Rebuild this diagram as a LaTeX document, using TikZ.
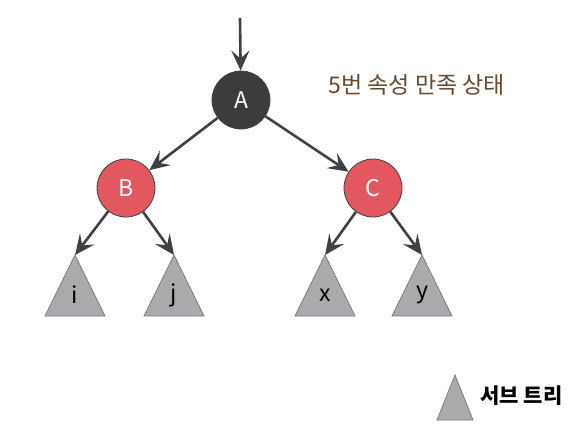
\documentclass[tikz,border=0pt]{standalone}
\usepackage{fontspec}
\setmainfont{Noto Sans CJK KR}
\usetikzlibrary{arrows.meta}
\definecolor{nodeblack}{RGB}{60,60,62}
\definecolor{nodered}{RGB}{226,88,94}
\definecolor{treegray}{RGB}{170,170,172}
\definecolor{treeedge}{RGB}{125,125,128}
\definecolor{edgegray}{RGB}{64,64,66}
\definecolor{titlebrown}{RGB}{105,72,45}
\begin{document}
\begin{tikzpicture}[x=1pt,y=-1pt]
    \tikzstyle{rbnode}=[circle,draw=edgegray,line width=0.8pt,minimum size=58pt,inner sep=0pt,text=white,font=\fontsize{23}{27}\selectfont];
    \tikzstyle{link}=[draw=edgegray,line width=2.6pt,-{Stealth[length=20pt,width=18pt,inset=8pt]}];
    \tikzstyle{subtree}=[fill=treegray,draw=treeedge,line width=0.8pt];
    \useasboundingbox (0,0) rectangle (577,432);

    \coordinate (top) at (240,18);
    \node (A) [rbnode,fill=nodeblack] at (241,100) {A};
    \node (B) [rbnode,fill=nodered] at (126,188) {B};
    \node (C) [rbnode,fill=nodered] at (373,188) {C};
    \node (title) [text=titlebrown,anchor=west,font=\fontsize{23}{27}\selectfont] at (325,85) {5번 속성 만족 상태};

    % subtrees: apex coordinate, triangle, label
    \foreach \name/\x in {i/75,j/174,x/325,y/422}{
        \coordinate (\name) at (\x,255);
        \filldraw[subtree] (\name) -- ++(-30,61) -- ++(60,0) -- cycle;
        \node (lbl\name) [font=\fontsize{23}{27}\selectfont] at (\x,295) {\name};
    }

    \draw[link] (top) -- (A);
    \draw[link] (A) -- (B);
    \draw[link] (A) -- (C);
    \foreach \p/\c in {B/i,B/j,C/x,C/y}{
        \draw[link] (\p) -- (\c);
    }

    % legend
    \coordinate (legend) at (455,375);
    \filldraw[subtree] (legend) -- ++(-18,45) -- ++(36,0) -- cycle;
    \node (legendtext) [anchor=west,font=\bfseries\fontsize{21}{25}\selectfont] at (477,396) {서브 트리};
\end{tikzpicture}
\end{document}
